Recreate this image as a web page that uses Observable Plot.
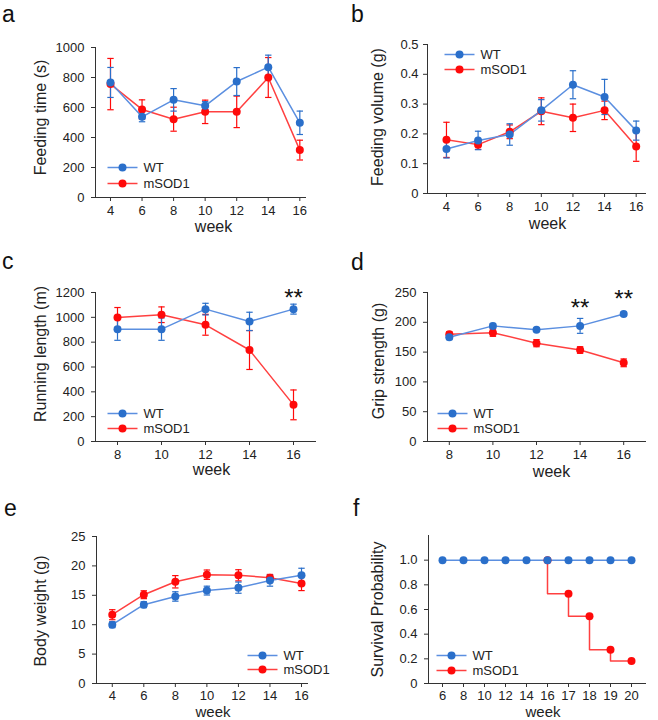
<!DOCTYPE html>
<html><head><meta charset="utf-8">
<script src="https://cdn.jsdelivr.net/npm/d3@7"></script>
<script src="https://cdn.jsdelivr.net/npm/@observablehq/plot@0.6"></script>
<style>
body{margin:0;background:#fff;font-family:'Liberation Sans',Arial,sans-serif;}
#fig{position:relative;width:658px;height:720px;overflow:hidden;}
.panel{position:absolute;width:329px;height:240px;}
.letter{position:absolute;font-size:23px;line-height:23px;color:#111;}
</style></head><body><div id="fig"></div><script>
// ---------- data ----------
const seriesNames = ["WT", "mSOD1"];
const weeks7 = [4, 6, 8, 10, 12, 14, 16];
const weeks5 = [8, 10, 12, 14, 16];

const feedTimeWT = [767, 538, 651, 611, 773, 869, 498];
const feedTimeWTErr = [100, 33, 75, 28, 93, 80, 78];
const feedTimeMut = [756, 587, 522, 571, 571, 800, 316];
const feedTimeMutErr = [171, 64, 80, 78, 105, 133, 66];

const feedVolWT = [0.149, 0.178, 0.198, 0.279, 0.365, 0.324, 0.211];
const feedVolWTErr = [0.030, 0.031, 0.036, 0.036, 0.047, 0.059, 0.032];
const feedVolMut = [0.180, 0.164, 0.207, 0.276, 0.254, 0.279, 0.158];
const feedVolMutErr = [0.059, 0.016, 0.023, 0.045, 0.046, 0.031, 0.050];

const runWT = [905, 905, 1066, 967, 1066];
const runWTErr = [90, 90, 47, 74, 40];
const runMut = [999, 1021, 940, 737, 295];
const runMutErr = [80, 63, 84, 157, 120];

const gripWT = [175, 194, 187.5, 194, 214];
const gripWTErr = [4, 4, 3, 12.5, 3];
const gripMut = [180, 182.5, 165, 153.5, 132];
const gripMutErr = [4, 6, 6, 5.5, 6.5];

const bodyWT = [10.0, 13.4, 14.8, 15.8, 16.3, 17.5, 18.4];
const bodyWTErr = [0.5, 0.5, 0.8, 0.75, 0.95, 0.95, 1.2];
const bodyMut = [11.7, 15.1, 17.3, 18.5, 18.4, 18.0, 17.0];
const bodyMutErr = [0.85, 0.67, 1.05, 0.8, 0.95, 0.55, 1.2];

const survWeeks = ["6", "8", "10", "12", "14", "16", "17", "18", "19", "20"];
const survWT = [1, 1, 1, 1, 1, 1, 1, 1, 1, 1];
const survMutWeeks = ["16", "17", "18", "19", "20"];
const survMut = [1, 0.727, 0.545, 0.273, 0.182];

const starsRunWeeks = [16], starsRunY = [1151];
const starsGripWeeks = [14, 16], starsGripY = [224, 238];

const ticksA = [0, 200, 400, 600, 800, 1000];
const ticksB = [0, 0.1, 0.2, 0.3, 0.4, 0.5];
const ticksC = [0, 200, 400, 600, 800, 1000, 1200];
const ticksD = [0, 50, 100, 150, 200, 250];
const ticksE = [0, 5, 10, 15, 20, 25];
const ticksF = [0, 0.2, 0.4, 0.6, 0.8, 1.0];

// ---------- styling ----------
const FONT = "'Liberation Sans', Arial, sans-serif";
const BLUE_DOT = "#2a6fca", BLUE_LINE = "#5b8fe0";
const RED_DOT = "#ff0a0a", RED_LINE = "#ff4040";
const AXIS = "#333";
const colors = {WT: [BLUE_DOT, BLUE_LINE], mSOD1: [RED_DOT, RED_LINE]};

const capSym = {draw(ctx, size) { const w = Math.sqrt(size / Math.PI); ctx.moveTo(-w, 0); ctx.lineTo(w, 0); }};

function rows(weeks, vals, errs) {
  return weeks.map((w, i) => ({week: w, v: vals[i], lo: errs ? vals[i] - errs[i] : null, hi: errs ? vals[i] + errs[i] : null}));
}

function makePanel(cfg) {
  const marks = [];
  marks.push(Plot.frame({anchor: "left", stroke: AXIS}));
  marks.push(Plot.frame({anchor: "bottom", stroke: AXIS}));
  marks.push(Plot.axisY({ticks: cfg.yTicks, tickSize: 4, tickPadding: cfg.yPad ?? 7, tickFormat: cfg.yFmt || (d => String(d)), label: null, stroke: AXIS}));
  const ax = {tickSize: 4, tickPadding: cfg.xPad ?? 4, label: null, stroke: AXIS};
  if (cfg.xTicks) { ax.ticks = cfg.xTicks; ax.tickFormat = d => String(d); }
  marks.push(Plot.axisX(ax));
  // lines & error bars
  for (const s of cfg.series) {
    const [dot, line] = colors[s.name];
    marks.push(Plot.line(s.data, {x: "week", y: "v", stroke: line, strokeWidth: 1.5, curve: s.curve || "linear"}));
    if (s.err) {
      marks.push(Plot.ruleX(s.data, {x: "week", y1: "lo", y2: "hi", stroke: dot, strokeWidth: 1.2}));
      marks.push(Plot.dot(s.data, {x: "week", y: "lo", symbol: capSym, r: 3.2, stroke: dot, fill: "none", strokeWidth: 1.2}));
      marks.push(Plot.dot(s.data, {x: "week", y: "hi", symbol: capSym, r: 3.2, stroke: dot, fill: "none", strokeWidth: 1.2}));
    }
  }
  for (const s of cfg.series) {
    const [dot] = colors[s.name];
    marks.push(Plot.dot(s.dotData || s.data, {x: "week", y: "v", r: 4, fill: dot}));
  }
  // stars
  if (cfg.stars) {
    marks.push(Plot.text(cfg.stars.weeks.map((w, i) => ({week: w, y: cfg.stars.y[i]})), {x: "week", y: "y", text: () => "**", fontSize: 24, fill: "#111", lineAnchor: "middle"}));
  }
  // axis labels
  marks.push(Plot.text([cfg.ylabel], {frameAnchor: "left", rotate: -90, dx: cfg.ylDx, dy: cfg.ylDy, fontSize: 16, fill: "#222", textAnchor: "middle", lineAnchor: "middle"}));
  marks.push(Plot.text(["week"], {frameAnchor: "bottom", dx: cfg.xlDx, dy: cfg.xlDy, fontSize: cfg.xlSize ?? 16, fill: "#222", lineAnchor: "middle"}));
  // legend
  const L = cfg.legend;
  seriesNames.forEach((name, i) => {
    const [dot, line] = colors[name];
    const dy = L.dy[i];
    marks.push(Plot.dot([name], {frameAnchor: L.anchor, dx: L.dx, dy, symbol: capSym, r: 15, stroke: line, fill: "none", strokeWidth: 1.5}));
    marks.push(Plot.dot([name], {frameAnchor: L.anchor, dx: L.dx, dy, r: 4, fill: dot}));
    marks.push(Plot.text([name], {frameAnchor: L.anchor, dx: L.dx + 21, dy, text: d => d, fontSize: 13, fill: "#222", textAnchor: "start", lineAnchor: "middle"}));
  });
  const p = Plot.plot({
    width: 329, height: 240,
    marginLeft: cfg.m[0], marginRight: cfg.m[1], marginTop: cfg.m[2], marginBottom: cfg.m[3],
    x: cfg.x, y: {domain: cfg.yDomain},
    style: {fontFamily: FONT, fontSize: "13px", color: "#222", background: "transparent", overflow: "visible"},
    marks
  });
  const div = document.createElement("div");
  div.className = "panel";
  div.style.left = cfg.pos[0] + "px";
  div.style.top = cfg.pos[1] + "px";
  div.appendChild(p);
  document.getElementById("fig").appendChild(div);
  const lt = document.createElement("div");
  lt.className = "letter";
  lt.textContent = cfg.letter;
  lt.style.left = cfg.lpos[0] + "px";
  lt.style.top = cfg.lpos[1] + "px";
  document.getElementById("fig").appendChild(lt);
}

const fmt1 = d => d === 0 ? "0" : d.toFixed(1);

makePanel({
  letter: "a", pos: [0, 0], lpos: [2, 3], m: [95, 24, 47, 43],
  x: {type: "linear", domain: [3.05, 16.36]}, xTicks: weeks7,
  yDomain: [0, 1000], yTicks: ticksA, ylabel: "Feeding time (s)", ylDx: -55, ylDy: -5, xlDx: 13, xlDy: 29,
  series: [{name: "mSOD1", data: rows(weeks7, feedTimeMut, feedTimeMutErr), err: true}, {name: "WT", data: rows(weeks7, feedTimeWT, feedTimeWTErr), err: true}],
  legend: {anchor: "bottom-left", dx: 27, dy: [-30, -14]}
});
makePanel({
  letter: "b", pos: [329, 0], lpos: [351, 3], m: [98, 13, 44, 47],
  x: {type: "linear", domain: [2.8, 16.59]}, xTicks: weeks7,
  yDomain: [0, 0.5], yTicks: ticksB, yFmt: fmt1, yPad: 5, ylabel: "Feeding volume (g)", ylDx: -50, ylDy: -2, xlDx: 11, xlDy: 30,
  series: [{name: "mSOD1", data: rows(weeks7, feedVolMut, feedVolMutErr), err: true}, {name: "WT", data: rows(weeks7, feedVolWT, feedVolWTErr), err: true}],
  legend: {anchor: "top-left", dx: 32, dy: [10, 25]}
});
makePanel({
  letter: "c", pos: [0, 240], lpos: [2, 250], m: [95, 14, 52, 39],
  x: {type: "linear", domain: [7, 17]}, xTicks: weeks5,
  yDomain: [0, 1200], yTicks: ticksC, ylabel: "Running length (m)", ylDx: -55, ylDy: -13, xlDx: 6, xlDy: 28,
  series: [{name: "mSOD1", data: rows(weeks5, runMut, runMutErr), err: true}, {name: "WT", data: rows(weeks5, runWT, runWTErr), err: true}],
  stars: {weeks: starsRunWeeks, y: starsRunY},
  legend: {anchor: "bottom-left", dx: 27, dy: [-28, -13]}
});
makePanel({
  letter: "d", pos: [329, 240], lpos: [351, 251], m: [98, 13, 52, 39],
  x: {type: "linear", domain: [7, 17]}, xTicks: weeks5,
  yDomain: [0, 250], yTicks: ticksD, ylabel: "Grip strength (g)", ylDx: -49, ylDy: -6, xlDx: 15, xlDy: 30,
  series: [{name: "mSOD1", data: rows(weeks5, gripMut, gripMutErr), err: true}, {name: "WT", data: rows(weeks5, gripWT, gripWTErr), err: true}],
  stars: {weeks: starsGripWeeks, y: starsGripY},
  legend: {anchor: "bottom-left", dx: 25, dy: [-28, -13]}
});
makePanel({
  letter: "e", pos: [0, 480], lpos: [4, 497], m: [96, 22, 56, 37],
  x: {type: "linear", domain: [3.0, 16.38]}, xTicks: weeks7, xPad: 3,
  yDomain: [0, 25], yTicks: ticksE, ylabel: "Body weight (g)", ylDx: -56, ylDy: 1, xlDx: 11, xlDy: 28.5, xlSize: 15,
  series: [{name: "mSOD1", data: rows(weeks7, bodyMut, bodyMutErr), err: true}, {name: "WT", data: rows(weeks7, bodyWT, bodyWTErr), err: true}],
  legend: {anchor: "bottom-right", dx: -45, dy: [-28, -14]}
});
makePanel({
  letter: "f", pos: [329, 480], lpos: [353, 497], m: [99, 13, 55, 37],
  x: {type: "point", domain: survWeeks, padding: 0.48}, xPad: 3,
  yDomain: [0, 1.2], yTicks: ticksF, yFmt: fmt1, ylabel: "Survival Probability", ylDx: -51, ylDy: 0, xlDx: 6, xlDy: 28.5, xlSize: 15,
  series: [{name: "mSOD1", data: rows(survMutWeeks, survMut), curve: "step-before"}, {name: "WT", data: rows(survWeeks, survWT)}],
  legend: {anchor: "bottom-left", dx: 23, dy: [-28, -13]}
});
</script></body></html>
